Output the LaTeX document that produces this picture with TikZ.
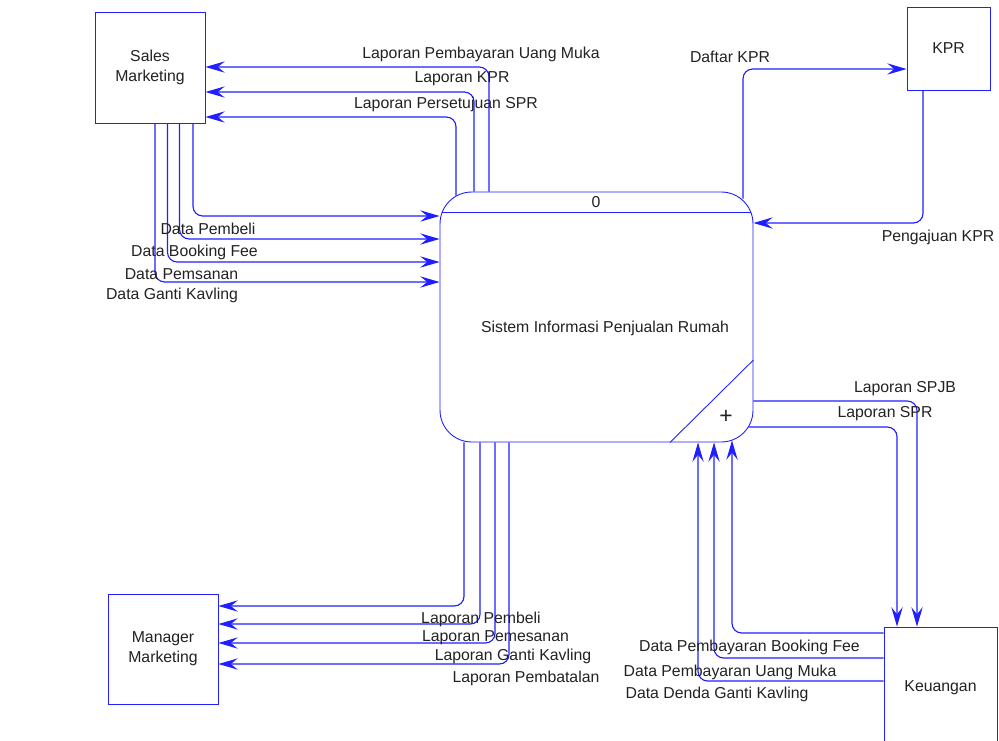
\documentclass[tikz,border=0pt]{standalone}
\usepackage{fontspec}
\setmainfont{Liberation Sans}
\usepackage{tikz}
\usetikzlibrary{arrows.meta,calc}
\definecolor{biru}{HTML}{1F1FFF}
\definecolor{tinta}{HTML}{222222}

\begin{document}
\begin{tikzpicture}[x=0.02cm,y=-0.02cm,
    font=\fontsize{9}{11.3}\selectfont,
    kotak/.style={draw=biru, line width=0.5pt, fill=white, text=tinta, align=center, inner sep=0pt},
    alur/.style={draw=biru, line width=0.65pt, rounded corners=5.5pt,
        -{Stealth[length=11pt,width=6.4pt,inset=4pt]}},
    teks/.style={text=tinta, inner sep=0pt}]
        \useasboundingbox (0,0) rectangle (999,740);
        % Proses utama
        \node[kotak, rounded corners=18pt, minimum width=6.26cm, minimum height=5cm] (proses) at (596.5,317) {};
        \draw[biru, line width=0.5pt] ($(proses.north west)+(2,21)$) -- ($(proses.north east)+(-2,21)$);
        \draw[biru, line width=0.5pt] (proses.south -| 670,0) -- (proses.east |- 0,360);
        \node[teks] (nomor) at (596,202) {0};
        \node[teks] (judul) at (605,328) {Sistem Informasi Penjualan Rumah};
        \node[teks, font=\fontsize{13}{13}\selectfont] (plus) at (726,417) {+};
        % Entitas luar
        \node[kotak, minimum width=2.2cm, minimum height=2.22cm] (sales) at (150,67.5) {Sales\\Marketing};
        \node[kotak, minimum width=1.66cm, minimum height=1.66cm] (kpr) at (948.5,48.5) {KPR};
        \node[kotak, minimum width=2.2cm, minimum height=2.2cm] (mgr) at (163,649) {Manager\\Marketing};
        \node[kotak, minimum width=2.26cm, minimum height=2.44cm] (keu) at (940.5,688) {Keuangan};
        % Alur ke Sales Marketing
        \draw[alur] (489,0 |- proses.north) |- (sales.east |- 0,67);
        \draw[alur] (474,0 |- proses.north) |- (sales.east |- 0,92);
        \draw[alur] ($(456,0 |- proses.north)+(0,4)$) |- (sales.east |- 0,117);
        \node[teks] (lpum) at (481,54) {Laporan Pembayaran Uang Muka};
        \node[teks] (lkpr) at (462,79) {Laporan KPR};
        \node[teks] (lspr) at (446,104) {Laporan Persetujuan SPR};
        % Alur dari Sales Marketing
        \draw[alur] (sales.south -| 193,0) |- (proses.west |- 0,216);
        \draw[alur] (sales.south -| 179.5,0) |- (proses.west |- 0,239);
        \draw[alur] (sales.south -| 167.5,0) |- (proses.west |- 0,262);
        \draw[alur] (sales.south -| 155,0) |- (proses.west |- 0,282);
        \node[teks] (dpem) at (208,229) {Data Pembeli};
        \node[teks] (dbf) at (194.5,252) {Data Booking Fee};
        \node[teks] (dpes) at (181.5,274) {Data Pemsanan};
        \node[teks] (dgk) at (172,295) {Data Ganti Kavling};
        % Alur KPR
        \draw[alur] ($(743,0 |- proses.north)+(0,7)$) |- (kpr.west |- 0,69);
        \draw[alur] (kpr.south -| 923,0) |- (proses.east |- 0,223);
        \node[teks] (dkpr) at (730,57) {Daftar KPR};
        \node[teks] (pkpr) at (938,237) {Pengajuan KPR};
        % Alur Keuangan
        \draw[alur] (proses.east |- 0,401) -| (keu.north -| 917,0);
        \draw[alur] ($(proses.east |- 0,427)+(-5,0)$) -| (keu.north -| 897,0);
        \draw[alur] (keu.west |- 0,633) -| ($(proses.south -| 732,0)+(0,-2)$);
        \draw[alur] (keu.west |- 0,658) -| (proses.south -| 714,0);
        \draw[alur] (keu.west |- 0,681) -| (proses.south -| 698,0);
        \node[teks] (lspjb) at (905,389) {Laporan SPJB};
        \node[teks] (lspr2) at (885,414) {Laporan SPR};
        \node[teks] (dpbf) at (749.5,647) {Data Pembayaran Booking Fee};
        \node[teks] (dpum) at (730,672) {Data Pembayaran Uang Muka};
        \node[teks] (ddgk) at (717,694) {Data Denda Ganti Kavling};
        % Alur ke Manager Marketing
        \draw[alur] (proses.south -| 464,0) |- (mgr.east |- 0,606);
        \draw[alur] (proses.south -| 480,0) |- (mgr.east |- 0,624);
        \draw[alur] (proses.south -| 495,0) |- (mgr.east |- 0,643);
        \draw[alur] (proses.south -| 509,0) |- (mgr.east |- 0,664);
        \node[teks] (lpem) at (481,619) {Laporan Pembeli};
        \node[teks] (lpes) at (495.5,638) {Laporan Pemesanan};
        \node[teks] (lgk) at (513,656) {Laporan Ganti Kavling};
        \node[teks] (lbtl) at (526,678) {Laporan Pembatalan};
    \end{tikzpicture}
\end{document}
